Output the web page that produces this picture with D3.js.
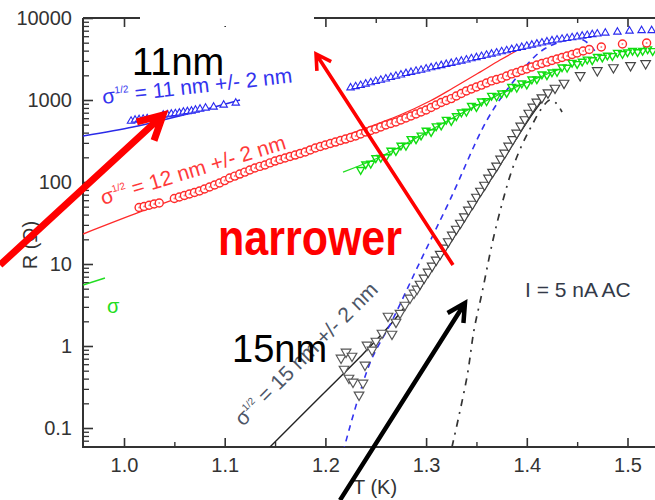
<!DOCTYPE html>
<html><head><meta charset="utf-8">
<script src="https://cdn.jsdelivr.net/npm/d3@7"></script>
<style>
body{margin:0;background:#fff}
svg{display:block}
text{font-family:"Liberation Sans",Arial,Helvetica,sans-serif}
</style>
</head><body>
<svg id="c" width="655" height="500"></svg>
<script>
// ---------------- axis ticks ----------------
const xTickValues = [1.0, 1.1, 1.2, 1.3, 1.4, 1.5];
const xTickLabels = ["1.0", "1.1", "1.2", "1.3", "1.4", "1.5"];
const xMinorTickValues = [1.05, 1.15, 1.25, 1.35, 1.45];
const yTickValues = [0.1, 1, 10, 100, 1000, 10000];
const yTickLabels = ["0.1", "1", "10", "100", "1000", "10000"];

// ---------------- data: sigma^1/2 = 11 nm (blue triangles) ----------------
const blue11T_low = [1.007,1.011,1.015,1.019,1.023,1.039,1.043,1.047,1.051,1.055,1.059,1.063,1.067,1.071,1.0755,1.081,1.089,1.099,1.111];
const blue11R_low = [554,570,578,586,594,656,665,675,684,694,714,724,734,755,777,799,822,869,919];
const blue11T_high = [1.225,1.230,1.235,1.240,1.245,1.250,1.255,1.260,1.265,1.270,1.275,1.280,1.285,1.290,1.295,1.300,1.305,1.310,1.315,1.320,1.325,1.330,1.335,1.340,1.345,1.350,1.355,1.360,1.365,1.370,1.375,1.380,1.385,1.390,1.395,1.400,1.405,1.410,1.415,1.420,1.425,1.430,1.435,1.440,1.445,1.450,1.455,1.460,1.465,1.470,1.478,1.490,1.502,1.514,1.524];
const blue11R_high = [1410,1460,1510,1570,1630,1690,1750,1810,1890,1960,2030,2110,2180,2250,2320,2400,2480,2560,2640,2730,2810,2900,2990,3090,3200,3300,3410,3530,3640,3760,3890,4010,4140,4270,4400,4540,4690,4830,4980,5140,5290,5410,5530,5640,5770,5900,6030,6150,6290,6420,6560,6750,6940,7040,7040];
const blue11FitT = [0.9593,1.0089,1.0387,1.0785,1.1152];
const blue11FitR = [364,469,570,755,1000];

// ---------------- data: sigma^1/2 = 12 nm (red circles) ----------------
const red12T = [1.015,1.020,1.025,1.030,1.035,
  1.050,1.055,1.060,1.065,1.070,1.075,1.080,1.085,1.090,1.095,
  1.100,1.105,1.110,1.115,1.120,1.125,1.130,1.135,1.140,1.145,
  1.150,1.155,1.160,1.165,1.170,1.175,1.180,1.185,1.190,1.195,
  1.200,1.205,1.210,1.215,1.220,1.225,1.230,1.235,1.240,1.245,
  1.250,1.255,1.260,1.265,1.270,1.275,1.280,1.285,1.290,1.295,
  1.300,1.305,1.310,1.315,1.320,1.325,1.330,1.335,1.340,1.345,
  1.350,1.355,1.360,1.365,1.370,1.375,1.380,1.385,1.390,1.395,
  1.400,1.405,1.410,1.415,1.420,1.425,1.430,1.435,1.440,1.445,
  1.450,1.456,1.462,1.474,1.495,1.519];
const red12R = [48.9,50.2,52.1,53.9,55.5,
  62.9,65.6,68.4,71.4,74.5,77.6,82.2,86.9,91.9,97.2,
  104,112,118,125,132,140,148,155,161,171,
  180,188,196,205,213,223,232,246,260,271,
  283,295,307,321,334,349,364,385,407,425,
  443,469,495,517,539,570,603,638,675,714,
  755,811,869,933,986,1040,1120,1200,1290,1360,
  1440,1520,1610,1710,1780,1850,1960,2080,2160,2290,
  2390,2530,2670,2790,2900,3030,3160,3300,3440,3590,
  3740,3960,4130,4430,4820,4960];
const red12FitT = [0.9593,1.0159,1.0755,1.1251,1.1748,1.2244,1.2741,1.3039,1.3267,1.3535,1.3734,1.4002];
const red12FitR = [23.2,43.1,79.9,132,232,385,656,972,1400,2190,3070,4690];

// ---------------- data: green down-triangles ----------------
const greenT = [1.235,1.240,1.245,1.250,1.255,1.260,1.265,1.270,1.275,1.280,
  1.285,1.290,1.295,1.300,1.305,1.310,1.315,1.320,1.325,1.330,
  1.335,1.340,1.345,1.350,1.355,1.360,1.365,1.370,1.375,1.380,
  1.385,1.390,1.395,1.400,1.405,1.410,1.415,1.420,1.425,1.430,
  1.435,1.440,1.445,1.450,1.455,1.460,1.465,1.470,1.475,1.480,
  1.485,1.490,1.495,1.500,1.505,1.510,1.515,1.520,1.525];
const greenR = [141,165,168,196,198,202,242,240,279,277,
  336,333,370,424,408,481,491,577,557,638,
  708,724,851,824,964,972,1130,1110,1210,1220,
  1450,1420,1600,1550,1790,1795,2060,2010,2180,2210,
  2510,2490,2860,2760,2950,3130,3070,3370,3300,3490,
  3450,3780,3660,3830,4000,3850,3990,4180,3970];
const greenFitT = [1.2175,1.2542,1.2939,1.3337,1.3734,1.4131,1.4330];
const greenFitR = [132,202,364,675,1180,1910,2390];
const greenStubT = [0.9593,0.9811];
const greenStubR = [5.55,6.75];

// ---------------- data: sigma^1/2 = 15 nm (black down-triangles) ----------------
const black15T_scatter = [1.2155,1.2185,1.2234,1.2274,1.2334,1.2205,1.2264,1.2393,1.2373,1.2413,1.2463,1.2502,1.2562,1.2622,1.2661,1.2701,1.2741,1.2790,1.2840,1.2880,1.2910];
const black15R_scatter = [0.714,0.524,0.407,0.364,0.253,0.845,0.755,0.587,0.354,1.03,0.894,1.15,1.44,2.32,1.40,1.96,2.52,3.16,3.85,4.43,4.96];
const black15T = [1.294,1.298,1.302,1.306,1.310,1.314,1.318,1.322,1.326,1.330,1.334,1.338,1.342,1.346,1.350,1.354,1.358,1.362,1.366,1.370,1.374,1.378,1.382,1.386,1.390,1.394,1.398,1.402,1.406,1.410,1.415,1.421,1.428,1.437,1.453,1.470,1.486,1.503,1.518];
const black15R = [5.70,6.75,7.99,9.46,11.2,13.2,15.7,18.8,22.6,26.7,31.6,37.9,45.6,53.9,65.6,77.6,91.9,112,132,157,191,226,275,330,396,482,578,694,822,946,1070,1230,1400,1610,1990,2290,2490,2640,2790];
const black15FitT = [1.140,1.1946,1.2344,1.2642,1.2840,1.3138,1.3436,1.3734,1.4002,1.4181];
const black15FitR = [0.051,0.239,0.734,1.80,3.64,11.8,43.1,161,539,1090];

// ---------------- model curves ----------------
const blueDashT = [1.2175,1.2443,1.2661,1.2939,1.3237,1.3605,1.3863,1.4131,1.4330,1.4508,1.4628,1.4707];
const blueDashR = [0.051,0.621,2.02,10.6,60.3,570,1660,3850,5100,5700,4690,3440];
const dashDotT = [1.3257,1.3406,1.3476,1.3555,1.3664,1.3764,1.3853,1.3952,1.4052,1.4151,1.4230,1.4290,1.4350];
const dashDotR = [0.0586,0.419,1.57,4.43,19.6,60.3,140,283,495,799,1000,919,714];

// ---------------- annotation arrows (data coordinates) ----------------
const arrowFrom = [[0.8769, 9.72], [1.3267, 9.72], [1.2145, 0.0132]];
const arrowTo   = [[1.0387, 656], [1.1907, 3640], [1.3386, 3.34]];

// =================================================================
const zip = (T, R) => T.map((t, i) => ({t: t, r: R[i]}));
const svg = d3.select("#c");
const x = d3.scaleLinear().domain([1.0, 1.5]).range([124, 627.5]);
const y = d3.scaleLog().domain([0.1, 10000]).range([428, 18]);
const X0 = 83, X1 = 655, Y0 = 447, Y1 = 18;
const AX = "#333";
const FONT = "Liberation Sans, Arial, sans-serif";

svg.append("defs").append("clipPath").attr("id", "plot")
  .append("rect").attr("x", X0).attr("y", Y1).attr("width", 700).attr("height", Y0 - Y1);

// ---- axes ----
const yMinor = [];
for (let k = -2; k <= 3; k++) for (let m = 2; m <= 9; m++) {
  const v = m * Math.pow(10, k);
  if (y(v) <= Y0 && y(v) >= Y1) yMinor.push(v);
}
const gy = svg.append("g").attr("transform", `translate(${X0},0)`)
  .call(d3.axisLeft(y).tickValues(yTickValues).tickFormat((d, i) => yTickLabels[i])
    .tickSizeInner(-10).tickSizeOuter(0).tickPadding(11));
gy.select(".domain").remove();
gy.selectAll("line").attr("stroke", AX).attr("stroke-width", 1.6);
gy.selectAll("text").attr("font-size", 20).attr("fill", AX).attr("font-family", FONT);
const gym = svg.append("g").attr("transform", `translate(${X0},0)`)
  .call(d3.axisLeft(y).tickValues(yMinor).tickFormat("").tickSizeInner(-6).tickSizeOuter(0));
gym.select(".domain").remove();
gym.selectAll("line").attr("stroke", AX).attr("stroke-width", 1.3);

const gx = svg.append("g").attr("transform", `translate(0,${Y0})`)
  .call(d3.axisBottom(x).tickValues(xTickValues).tickFormat((d, i) => xTickLabels[i])
    .tickSizeInner(-9).tickSizeOuter(0).tickPadding(11));
gx.select(".domain").remove();
gx.selectAll("line").attr("stroke", AX).attr("stroke-width", 1.6);
gx.selectAll("text").attr("font-size", 20).attr("fill", AX).attr("font-family", FONT);
const gxm = svg.append("g").attr("transform", `translate(0,${Y0})`)
  .call(d3.axisBottom(x).tickValues(xMinorTickValues).tickFormat("").tickSizeInner(-5).tickSizeOuter(0));
gxm.select(".domain").remove();
gxm.selectAll("line").attr("stroke", AX).attr("stroke-width", 1.4);

const gt = svg.append("g").attr("transform", `translate(0,${Y1})`)
  .call(d3.axisTop(x).tickValues(xTickValues).tickFormat("").tickSizeInner(-9).tickSizeOuter(0));
gt.select(".domain").remove();
gt.selectAll("line").attr("stroke", AX).attr("stroke-width", 1.6);
const gtm = svg.append("g").attr("transform", `translate(0,${Y1})`)
  .call(d3.axisTop(x).tickValues(xMinorTickValues).tickFormat("").tickSizeInner(-5).tickSizeOuter(0));
gtm.select(".domain").remove();
gtm.selectAll("line").attr("stroke", AX).attr("stroke-width", 1.4);

svg.append("path").attr("d", `M${X0},${Y1}V${Y0}H${X1}M${X0},${Y1}H${X1}`)
  .attr("fill", "none").attr("stroke", AX).attr("stroke-width", 2);

// white patch over part of the top frame
svg.append("rect").attr("x", 140).attr("y", 0).attr("width", 174).attr("height", 26).attr("fill", "#fff");

// axis titles
svg.append("text").attr("transform", "translate(37,245) rotate(-90)").attr("text-anchor", "middle")
  .attr("font-size", 20).attr("fill", AX).text("R (Ω)");
svg.append("text").attr("x", 353).attr("y", 494).attr("font-size", 20).attr("fill", AX).text("T (K)");

// ---- plot content ----
const plot = svg.append("g").attr("clip-path", "url(#plot)");
const line = d3.line().x(d => x(d.t)).y(d => y(d.r)).curve(d3.curveCatmullRom);

function drawLine(T, R, color, w, dash) {
  plot.append("path").datum(zip(T, R)).attr("d", line).attr("fill", "none")
    .attr("stroke", color).attr("stroke-width", w).attr("stroke-dasharray", dash || null);
}
drawLine(red12FitT, red12FitR, "#ff2a2a", 1.3);
drawLine(greenFitT, greenFitR, "#22dd22", 1.2);
drawLine(greenStubT, greenStubR, "#22dd22", 1.6);
drawLine(blue11FitT, blue11FitR, "#2a2ae8", 1.4);
drawLine(black15FitT, black15FitR, "#222", 1.4);
drawLine(blueDashT, blueDashR, "#3333f0", 1.6, "6,5");
drawLine(dashDotT, dashDotR, "#333", 1.7, "7,6,2,6");

const triUp = d3.symbol(d3.symbolTriangle, 24);
const triDown = d3.symbol(d3.symbolTriangle, 40);
const triDownG = d3.symbol(d3.symbolTriangle, 26);

function triangles(T, R, sym, down, stroke, fill, sw) {
  plot.append("g").selectAll("path").data(zip(T, R)).join("path")
    .attr("d", sym)
    .attr("transform", d => `translate(${x(d.t)},${y(d.r)})${down ? " rotate(180)" : ""}`)
    .attr("fill", fill).attr("stroke", stroke).attr("stroke-width", sw);
}
triangles(greenT, greenR, triDownG, true, "#11dd11", "none", 1.4);
triangles(blue11T_low, blue11R_low, triUp, false, "#2a2af0", "#fff", 1.1);
triangles(blue11T_high, blue11R_high, triUp, false, "#2a2af0", "#fff", 1.1);

const rc = plot.append("g").selectAll("g").data(zip(red12T, red12R)).join("g")
  .attr("transform", d => `translate(${x(d.t)},${y(d.r)})`);
rc.append("circle").attr("r", 4).attr("fill", "#fff").attr("stroke", "#ff2a2a").attr("stroke-width", 1.4);
rc.append("circle").attr("r", 1).attr("fill", "#ff8080");

triangles(black15T_scatter, black15R_scatter, triDown, true, "#555", "#fff", 1.2);
triangles(black15T, black15R, triDown, true, "#444", "#fff", 1.2);

// ---- labels ----
function sigmaLabel(px, py, angle, color, rest) {
  const t = svg.append("text").attr("transform", `translate(${px},${py}) rotate(${angle})`)
    .attr("font-size", 21).attr("fill", color);
  t.append("tspan").text("σ");
  t.append("tspan").attr("font-size", 10).attr("dy", -9).text("1/2");
  t.append("tspan").attr("dy", 9).text("\u00a0= " + rest);
}
sigmaLabel(103, 104, -6.5, "#3333ee", "11 nm +/- 2 nm");
sigmaLabel(103, 205, -17, "#ff3a3a", "12 nm +/- 2 nm");
sigmaLabel(243, 427, -45, "#4d5566", "15 nm +/- 2 nm");
svg.append("text").attr("x", 107).attr("y", 313).attr("font-size", 20).attr("fill", "#22dd22").text("σ");

svg.append("text").attr("x", 132).attr("y", 75).attr("font-size", 38).attr("fill", "#000").text("11nm");
svg.append("text").attr("x", 232).attr("y", 362).attr("font-size", 38).attr("fill", "#000").text("15nm");
svg.append("text").attr("x", 218).attr("y", 255).attr("font-size", 50).attr("font-weight", "bold")
  .attr("fill", "#ff0000").attr("textLength", 184).attr("lengthAdjust", "spacingAndGlyphs").text("narrower");
svg.append("text").attr("x", 525).attr("y", 297).attr("font-size", 21).attr("fill", "#333a48").text("I = 5 nA AC");

// ---- arrows ----
const arrowStyle = [
  {color: "#ff0000", w: 7, head: 27, ang: 28},
  {color: "#ff0000", w: 3.6, head: 17, ang: 30},
  {color: "#000", w: 4.5, head: 20, ang: 28}
];
arrowFrom.forEach((f, i) => {
  const s = arrowStyle[i];
  const fx = x(f[0]), fy = y(f[1]), tx = x(arrowTo[i][0]), ty = y(arrowTo[i][1]);
  const L = Math.hypot(fx - tx, fy - ty), ux = (fx - tx) / L, uy = (fy - ty) / L;
  const a = s.ang * Math.PI / 180;
  const w1 = [tx + s.head * (ux * Math.cos(a) - uy * Math.sin(a)), ty + s.head * (ux * Math.sin(a) + uy * Math.cos(a))];
  const w2 = [tx + s.head * (ux * Math.cos(-a) - uy * Math.sin(-a)), ty + s.head * (ux * Math.sin(-a) + uy * Math.cos(-a))];
  svg.append("path")
    .attr("d", `M${fx},${fy}L${tx},${ty}M${w1[0]},${w1[1]}L${tx},${ty}L${w2[0]},${w2[1]}`)
    .attr("fill", "none").attr("stroke", s.color).attr("stroke-width", s.w)
    .attr("stroke-linejoin", "miter").attr("stroke-linecap", "butt");
});
</script>
</body></html>
